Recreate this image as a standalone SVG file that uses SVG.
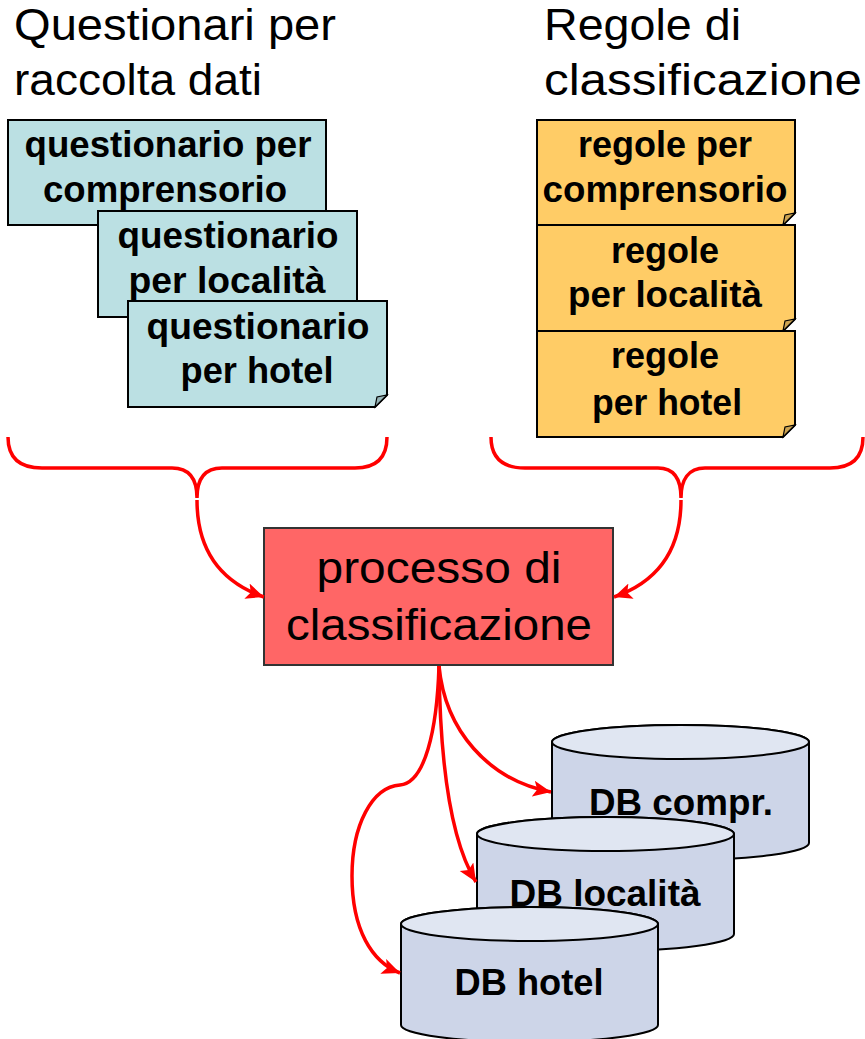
<svg xmlns="http://www.w3.org/2000/svg" width="865" height="1039" viewBox="0 0 865 1039">
<style>
.title{font-family:"Liberation Sans",Arial,sans-serif;font-size:45px;fill:#000}
.bt{font-family:"Liberation Sans",Arial,sans-serif;font-size:36px;font-weight:bold;fill:#000;text-anchor:middle}
.pt{font-family:"Liberation Sans",Arial,sans-serif;font-size:45px;fill:#000;text-anchor:middle}
.q{fill:#BBE0E3;stroke:#000;stroke-width:2}
.r{fill:#FFCC66;stroke:#000;stroke-width:2}
.qf{fill:#96B3B6;stroke:#000;stroke-width:1.2}
.rf{fill:#CCA352;stroke:#000;stroke-width:1.2}
.proc{fill:#FF6666;stroke:#333;stroke-width:2}
.cyl{fill:#CDD5E8;stroke:#000;stroke-width:2}
.cylt{fill:#E0E6F2;stroke:#000;stroke-width:2}
.con{fill:none;stroke:#FF0000;stroke-width:3.5}
</style>
<defs>
<marker id="ah" markerUnits="userSpaceOnUse" markerWidth="20" markerHeight="18" refX="18" refY="8" orient="auto">
<path d="M0,0 L18,8 L0,16 L4,8 Z" fill="#FF0000"/>
</marker>
</defs>

<g id="title-left">
<text class="title" x="14" y="40" textLength="322" lengthAdjust="spacingAndGlyphs">Questionari per</text>
<text class="title" x="14" y="95" textLength="248" lengthAdjust="spacingAndGlyphs">raccolta dati</text>
</g>
<g id="title-right">
<text class="title" x="544" y="40" textLength="197" lengthAdjust="spacingAndGlyphs">Regole di</text>
<text class="title" x="544" y="95" textLength="318" lengthAdjust="spacingAndGlyphs">classificazione</text>
</g>

<g id="q-comprensorio">
<rect class="q" x="8" y="120" width="318" height="105"/>
<text class="bt" x="168" y="157" textLength="287" lengthAdjust="spacingAndGlyphs">questionario per</text>
<text class="bt" x="165" y="202" textLength="244" lengthAdjust="spacingAndGlyphs">comprensorio</text>
</g>
<g id="q-localita">
<rect class="q" x="98" y="211" width="259" height="106"/>
<text class="bt" x="228" y="248" textLength="221" lengthAdjust="spacingAndGlyphs">questionario</text>
<text class="bt" x="227" y="293" textLength="197" lengthAdjust="spacingAndGlyphs">per località</text>
</g>
<g id="q-hotel">
<path class="q" d="M128,301 H387 V395 L375,407 H128 Z"/>
<path class="qf" d="M387,395 L375,407 L377,397 Z"/>
<text class="bt" x="258" y="339" textLength="223" lengthAdjust="spacingAndGlyphs">questionario</text>
<text class="bt" x="257" y="383" textLength="153" lengthAdjust="spacingAndGlyphs">per hotel</text>
</g>

<g id="r-comprensorio">
<path class="r" d="M537,120 H795 V213 L783,225 H537 Z"/>
<path class="rf" d="M795,213 L783,225 L785,215 Z"/>
<text class="bt" x="665" y="157">regole per</text>
<text class="bt" x="665" y="202" textLength="245" lengthAdjust="spacingAndGlyphs">comprensorio</text>
</g>
<g id="r-localita">
<path class="r" d="M537,225 H795 V319 L783,331 H537 Z"/>
<path class="rf" d="M795,319 L783,331 L785,321 Z"/>
<text class="bt" x="665" y="263">regole</text>
<text class="bt" x="665" y="307" textLength="194" lengthAdjust="spacingAndGlyphs">per località</text>
</g>
<g id="r-hotel">
<path class="r" d="M537,331 H795 V425 L783,437 H537 Z"/>
<path class="rf" d="M795,425 L783,437 L785,427 Z"/>
<text class="bt" x="665" y="368">regole</text>
<text class="bt" x="667" y="415" textLength="150" lengthAdjust="spacingAndGlyphs">per hotel</text>
</g>

<g id="processo">
<rect class="proc" x="264" y="528" width="349" height="137"/>
<text class="pt" x="439" y="583" textLength="245" lengthAdjust="spacingAndGlyphs">processo di</text>
<text class="pt" x="439" y="640" textLength="306" lengthAdjust="spacingAndGlyphs">classificazione</text>
</g>

<g id="db-compr">
<path class="cyl" d="M552,742 V843 A128.5,17 0 0 0 809,843 V742 A128.5,17 0 0 0 552,742 Z"/>
<ellipse class="cylt" cx="680.5" cy="742" rx="128.5" ry="17"/>
<text class="bt" x="681" y="815" textLength="184" lengthAdjust="spacingAndGlyphs">DB compr.</text>
</g>
<g id="db-localita">
<path class="cyl" d="M477,834 V934 A128.5,17 0 0 0 734,934 V834 A128.5,17 0 0 0 477,834 Z"/>
<ellipse class="cylt" cx="605.5" cy="834" rx="128.5" ry="17"/>
<text class="bt" x="605" y="906" textLength="191" lengthAdjust="spacingAndGlyphs">DB località</text>
</g>
<g id="db-hotel">
<path class="cyl" d="M401,924 V1025 A128.5,17 0 0 0 658,1025 V924 A128.5,17 0 0 0 401,924 Z"/>
<ellipse class="cylt" cx="529.5" cy="924" rx="128.5" ry="17"/>
<text class="bt" x="529" y="995" textLength="149" lengthAdjust="spacingAndGlyphs">DB hotel</text>
</g>

<g id="connectors">
<path class="con" d="M8,437 C8,458 20,468 42,468 L172,468 C190,468 197,480 197,498 C197,480 204,468 222,468 L355,468 C376,468 387,458 387,437"/>
<path class="con" d="M491,437 C491,458 503,468 525,468 L658,468 C675,468 681,480 681,498 C681,480 688,468 705,468 L830,468 C852,468 863,458 863,437"/>
<path class="con" marker-end="url(#ah)" d="M197,500 C197,545 215,580 264,597"/>
<path class="con" marker-end="url(#ah)" d="M681,500 C681,545 663,580 614,597"/>
<path class="con" marker-end="url(#ah)" d="M439,666 C445,730 488,780 551,792"/>
<path class="con" marker-end="url(#ah)" d="M439,666 C440,760 450,840 476,882"/>
<path class="con" marker-end="url(#ah)" d="M439,666 C437,730 425,783 400,785 C372,787 352,825 352,876 C352,930 372,962 400,973"/>
</g>
</svg>
